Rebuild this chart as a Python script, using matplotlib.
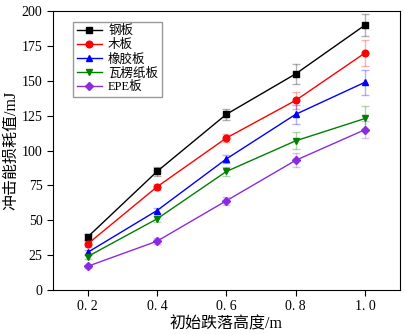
import matplotlib
matplotlib.use('Agg')
from matplotlib import pyplot as plt

plt.rcParams['font.family'] = ['Liberation Serif', 'Noto Sans CJK SC']

heights = [0.2, 0.4, 0.6, 0.8, 1.0]

names = ['钢板', '木板', '橡胶板', '瓦楞纸板', 'EPE板']
colors = ['black', 'red', 'blue', 'green', '#8a2be2']
markers = ['s', 'o', '^', 'v', 'D']

steel = [38, 85, 126, 155, 190]
wood = [33, 74, 109, 136, 170]
rubber = [27, 57, 94, 126, 149]
carton = [24, 51, 85, 107, 123]
epe = [17, 35, 64, 93, 115]

steel_err = [2, 3, 4, 7, 8]
wood_err = [2, 2, 3, 6, 9]
rubber_err = [2, 2, 3, 7, 9]
carton_err = [2, 2, 3, 6, 9]
epe_err = [1, 2, 3, 5, 6]

series = [steel, wood, rubber, carton, epe]
errors = [steel_err, wood_err, rubber_err, carton_err, epe_err]

fig = plt.figure(figsize=(4.06, 3.34), dpi=100)
ax = fig.add_axes([0.1305, 0.1317, 0.854, 0.835])

for i in range(len(series)):
    ms = 4 if markers[i] == 'D' else 4.8
    ax.errorbar(heights, series[i], yerr=errors[i], fmt='none',
                ecolor=colors[i], alpha=0.3, elinewidth=1, capsize=3)
    ax.plot(heights, series[i], color=colors[i], marker=markers[i],
            markersize=ms, linewidth=1, label=names[i])

ax.set_xlim(0.1, 1.1)
ax.set_ylim(0, 200)
ax.set_xticks(heights)
ax.set_xticklabels(['0. 2', '0. 4', '0. 6', '0. 8', '1. 0'])
ax.set_yticks(range(0, 201, 25))
ax.tick_params(direction='out', labelsize=10, length=4)
ax.set_xlabel('初始跌落高度/m', fontsize=11.5, labelpad=2)
ax.set_ylabel('冲击能损耗值/mJ', fontsize=11.5, labelpad=2)

leg = ax.legend(loc='upper left', fontsize=9, fancybox=False,
                edgecolor='gray', handlelength=2.0, handletextpad=0.5,
                labelspacing=0.15, borderpad=0.3,
                bbox_to_anchor=(0.04, 0.985))

plt.savefig('out.png', dpi=100)
